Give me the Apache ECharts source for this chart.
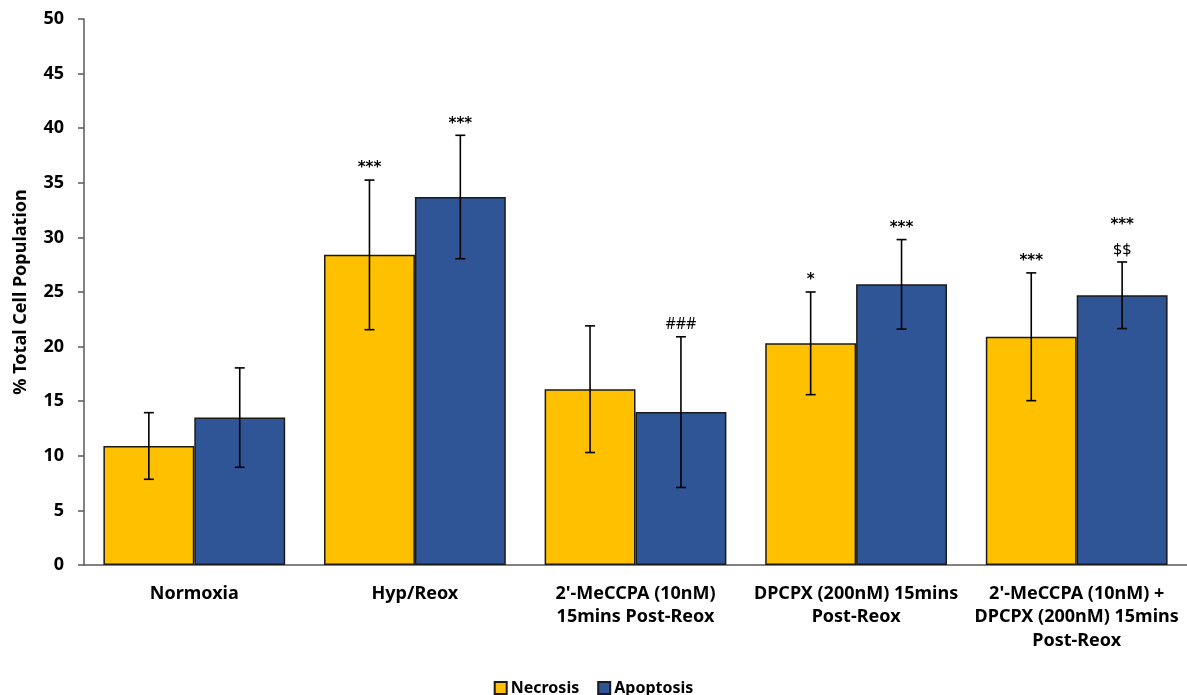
<!DOCTYPE html>
<html>
<head>
<meta charset="utf-8">
<script src="https://cdn.jsdelivr.net/npm/echarts@6/dist/echarts.min.js"></script>
<style>html,body{margin:0;padding:0;background:#fff}#c{width:1187px;height:695px}</style>
</head>
<body>
<div id="c"></div>
<script>
var categories = ["Normoxia", "Hyp/Reox", "2'-MeCCPA (10nM)\n15mins Post-Reox", "DPCPX (200nM) 15mins\nPost-Reox", "2'-MeCCPA (10nM) +\nDPCPX (200nM) 15mins\nPost-Reox"];
var necrosis = [10.9, 28.4, 16.1, 20.3, 20.9];
var necrosisErr = [3.05, 6.85, 5.8, 4.7, 5.85];
var apoptosis = [13.5, 33.7, 14.0, 25.7, 24.7];
var apoptosisErr = [4.55, 5.65, 6.9, 4.1, 3.05];
var necrosisMarks = ["", "***", "", "*", "***"];
var apoptosisMarks = ["", "***", "###", "***", "***\n$$"];
var yTicks = [0, 5, 10, 15, 20, 25, 30, 35, 40, 45, 50];

var FONT = "Noto Sans";
var GAP = 0.176;

function errSeries(name, vals, errs, marks, side) {
  return {
    type: 'custom',
    name: name + ' err',
    z: 5,
    data: vals.map(function (v, i) { return [i, v, errs[i]]; }),
    encode: { x: 0, y: 1 },
    renderItem: function (params, api) {
      var i = api.value(0), v = api.value(1), e = api.value(2);
      var mark = marks[i];
      var band = api.size([1, 0])[0];
      var bw = band * (1 - GAP) / 2;
      var c = api.coord([i, v]);
      var x = c[0] + side * bw / 2;
      var top = api.coord([i, v + e])[1];
      var bot = api.coord([i, v - e])[1];
      var cap = 5;
      var style = { stroke: '#000', lineWidth: 1.6 };
      var children = [
        { type: 'line', shape: { x1: x, y1: top, x2: x, y2: bot }, style: style },
        { type: 'line', shape: { x1: x - cap, y1: top, x2: x + cap, y2: top }, style: style },
        { type: 'line', shape: { x1: x - cap, y1: bot, x2: x + cap, y2: bot }, style: style }
      ];
      if (mark) {
        var lines = mark.split('\n');
        for (var k = 0; k < lines.length; k++) {
          var off = (lines.length - 1 - k) * 25;
          var isStar = lines[k].indexOf('*') >= 0;
          children.push({
            type: 'text',
            style: {
              text: lines[k], x: x, y: top - 4 - off,
              align: 'center', verticalAlign: 'bottom',
              font: (isStar ? 'bold 15px DejaVu Sans' : '16px ' + FONT),
              fill: '#000'
            }
          });
        }
      }
      return { type: 'group', children: children };
    }
  };
}

var chart = echarts.init(document.getElementById('c'), null, { renderer: 'canvas' });
chart.setOption({
  animation: false,
  backgroundColor: '#fff',
  textStyle: { fontFamily: FONT },
  grid: { left: 84, right: -2, top: 19, bottom: 130, containLabel: false },
  legend: {
    top: 675, left: 'center',
    data: ['Necrosis', 'Apoptosis'],
    icon: 'rect', itemWidth: 12, itemHeight: 12, itemGap: 18,
    textStyle: { fontFamily: FONT, fontWeight: 'bold', fontSize: 16, color: '#000', padding: [0, 0, 0, -1] }
  },
  xAxis: {
    type: 'category',
    data: categories,
    axisLine: { lineStyle: { color: '#595959', width: 1.5 } },
    axisTick: { show: false },
    axisLabel: { interval: 0, fontFamily: FONT, fontWeight: 'bold', fontSize: 18, color: '#000', lineHeight: 23.5, margin: 17 }
  },
  yAxis: {
    type: 'value', min: 0, max: 50, interval: 5,
    name: '% Total Cell Population', nameLocation: 'middle', nameGap: 54,
    nameTextStyle: { fontFamily: FONT, fontWeight: 'bold', fontSize: 18, color: '#000' },
    axisLine: { show: true, lineStyle: { color: '#595959', width: 1.5 } },
    axisTick: { show: true, length: 6, lineStyle: { color: '#595959', width: 1.5 } },
    splitLine: { show: false },
    axisLabel: {
      fontFamily: FONT, fontWeight: 'bold', fontSize: 18, color: '#000', margin: 20,
      formatter: function (v) { return yTicks.indexOf(v) >= 0 ? String(v) : ''; }
    }
  },
  series: [
    {
      name: 'Necrosis', type: 'bar', data: necrosis, barGap: '0%', barCategoryGap: (GAP * 100) + '%',
      itemStyle: { color: '#FFC000', borderColor: '#1a1a1a', borderWidth: 1.5 }
    },
    {
      name: 'Apoptosis', type: 'bar', data: apoptosis, barGap: '0%', barCategoryGap: (GAP * 100) + '%',
      itemStyle: { color: '#2F5597', borderColor: '#1a1a1a', borderWidth: 1.5 }
    },
    errSeries('Necrosis', necrosis, necrosisErr, necrosisMarks, -1),
    errSeries('Apoptosis', apoptosis, apoptosisErr, apoptosisMarks, 1)
  ]
});
</script>
</body>
</html>
